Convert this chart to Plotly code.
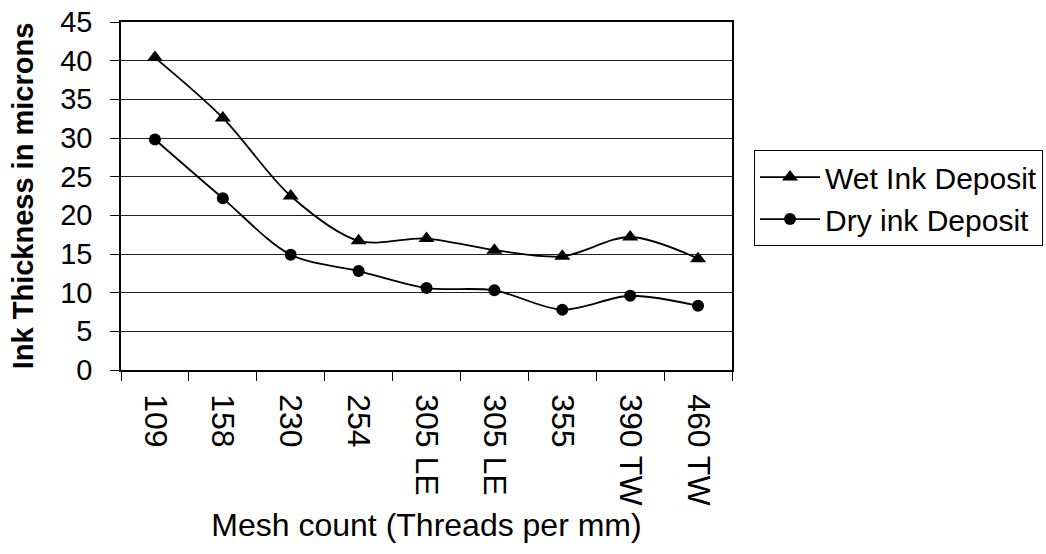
import plotly.graph_objects as go

categories = ["109", "158", "230", "254", "305 LE", "305 LE ", "355", "390 TW", "460 TW"]
wet_ink = [40.4, 32.6, 22.5, 16.7, 17.0, 15.5, 14.7, 17.2, 14.4]
dry_ink = [29.8, 22.2, 14.9, 12.8, 10.6, 10.3, 7.8, 9.6, 8.3]

font_family = "Liberation Sans, Arial, sans-serif"

fig = go.Figure()
fig.add_trace(go.Scatter(
    x=categories, y=wet_ink, name="Wet Ink Deposit",
    mode="lines+markers",
    line=dict(color="black", width=1.8, shape="spline", smoothing=0.9),
    marker=dict(symbol="triangle-up", size=14, color="black"),
))
fig.add_trace(go.Scatter(
    x=categories, y=dry_ink, name="Dry ink Deposit",
    mode="lines+markers",
    line=dict(color="black", width=1.8, shape="spline", smoothing=0.9),
    marker=dict(symbol="circle", size=12, color="black"),
))

fig.update_layout(
    width=1046, height=554,
    margin=dict(l=121, r=314, t=22, b=184, autoexpand=False),
    paper_bgcolor="white", plot_bgcolor="white",
    font=dict(family=font_family, color="black", size=29),
    showlegend=True,
    legend=dict(
        x=1.036, y=0.632, xanchor="left", yanchor="top",
        bordercolor="black", borderwidth=1, bgcolor="white",
        font=dict(size=30, family=font_family),
        tracegroupgap=0, itemwidth=60,
    ),
    xaxis=dict(
        type="category",
        range=[-0.5, len(categories) - 0.5],
        tickmode="array", tickvals=categories,
        ticktext=[c.strip() for c in categories],
        tickangle=90,
        tickson="boundaries",
        ticks="outside", ticklen=9, tickcolor="black", tickwidth=1,
        ticklabelstandoff=16,
        showline=True, linecolor="black", linewidth=1.5, mirror=True,
        showgrid=False,
        tickfont=dict(size=32, family=font_family),
        title=dict(text="Mesh count (Threads per mm)", standoff=8,
                   font=dict(size=32, family=font_family)),
        automargin=False,
    ),
    yaxis=dict(
        range=[0, 45], dtick=5, tick0=0,
        ticks="outside", ticklen=9, tickcolor="black", tickwidth=1,
        ticklabelstandoff=12,
        showline=True, linecolor="black", linewidth=1.5, mirror=True,
        showgrid=True, gridcolor="#222", gridwidth=1,
        zeroline=False,
        tickfont=dict(size=29, family=font_family),
        title=dict(text="<b>Ink Thickness in microns</b>", standoff=18,
                   font=dict(size=29, family=font_family)),
        automargin=False,
    ),
)

fig.write_html("out.html")
